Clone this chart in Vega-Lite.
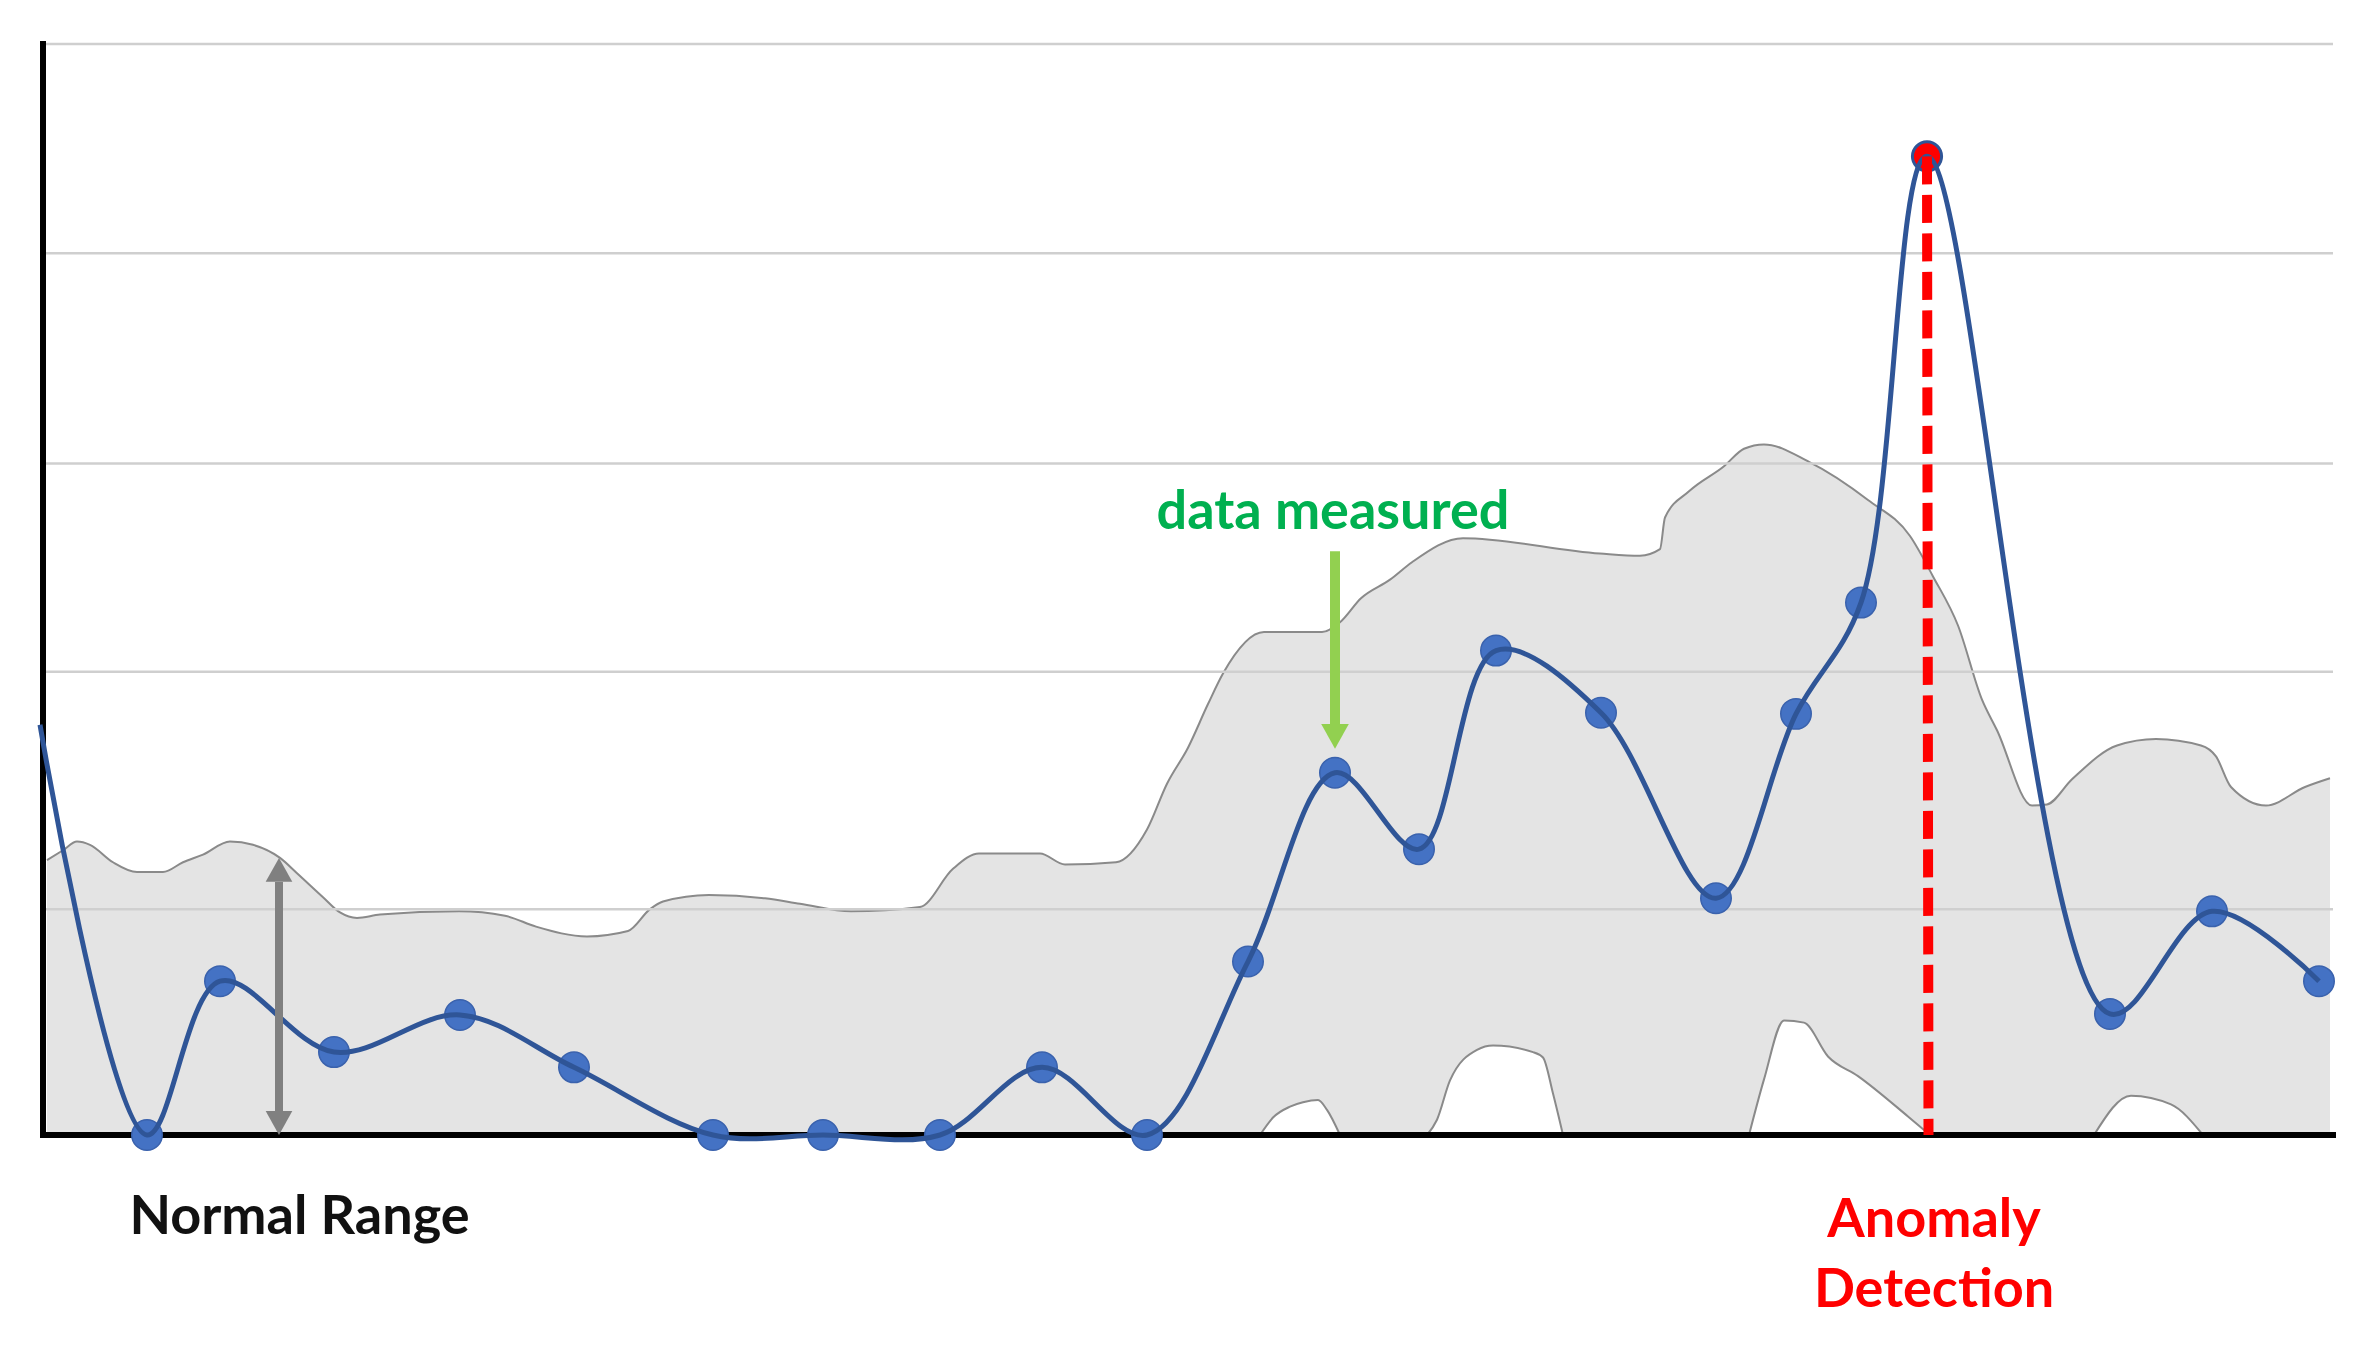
{
  "$schema": "https://vega.github.io/schema/vega-lite/v6.json",
  "width": 2290,
  "height": 1091,
  "autosize": {"type": "none"},
  "padding": {"left": 43, "top": 44, "right": 46, "bottom": 215},
  "background": "white",
  "config": {"view": {"stroke": null}, "axis": {"disable": true}},
  "datasets": {
    "band": [
      {"t": 0.4, "v": 25.2}, {"t": 2.0, "v": 26.1}, {"t": 3.4, "v": 26.9}, {"t": 4.7, "v": 26.6},
      {"t": 7.0, "v": 25.0}, {"t": 9.4, "v": 24.1}, {"t": 12.0, "v": 24.1}, {"t": 14.0, "v": 25.0},
      {"t": 16.0, "v": 25.7}, {"t": 18.7, "v": 26.9}, {"t": 21.0, "v": 26.6}, {"t": 23.7, "v": 25.4},
      {"t": 25.4, "v": 24.0}, {"t": 28.0, "v": 21.8}, {"t": 29.7, "v": 20.4}, {"t": 31.4, "v": 19.9},
      {"t": 33.7, "v": 20.2}, {"t": 41.6, "v": 20.5}, {"t": 46.2, "v": 20.1}, {"t": 49.3, "v": 19.1},
      {"t": 54.4, "v": 18.2}, {"t": 58.5, "v": 18.7}, {"t": 60.7, "v": 20.7}, {"t": 62.0, "v": 21.4},
      {"t": 66.6, "v": 22.0}, {"t": 72.2, "v": 21.7}, {"t": 75.7, "v": 21.2}, {"t": 80.8, "v": 20.5},
      {"t": 87.7, "v": 20.9}, {"t": 91.0, "v": 24.4}, {"t": 93.6, "v": 25.8}, {"t": 99.7, "v": 25.8},
      {"t": 102.2, "v": 24.8}, {"t": 107.3, "v": 25.0}, {"t": 110.4, "v": 28.0}, {"t": 112.4, "v": 32.2},
      {"t": 114.5, "v": 35.5}, {"t": 116.5, "v": 39.5}, {"t": 118.0, "v": 42.3}, {"t": 122.1, "v": 46.1},
      {"t": 127.9, "v": 46.1}, {"t": 129.7, "v": 47.0}, {"t": 131.8, "v": 49.2}, {"t": 134.7, "v": 50.9},
      {"t": 136.9, "v": 52.5}, {"t": 142.0, "v": 54.7}, {"t": 155.7, "v": 53.3}, {"t": 159.7, "v": 53.1},
      {"t": 161.7, "v": 53.7}, {"t": 162.2, "v": 56.6}, {"t": 164.6, "v": 59.0}, {"t": 168.1, "v": 61.3},
      {"t": 170.1, "v": 62.9}, {"t": 172.1, "v": 63.3}, {"t": 176.6, "v": 61.7}, {"t": 182.5, "v": 58.2},
      {"t": 186.7, "v": 54.9}, {"t": 189.0, "v": 51.2}, {"t": 191.5, "v": 46.7}, {"t": 193.9, "v": 39.9},
      {"t": 195.4, "v": 37.1}, {"t": 198.9, "v": 30.2}, {"t": 200.4, "v": 30.3}, {"t": 202.9, "v": 32.6},
      {"t": 207.4, "v": 35.7}, {"t": 211.3, "v": 36.3}, {"t": 215.8, "v": 35.7}, {"t": 217.3, "v": 34.7},
      {"t": 218.8, "v": 31.9}, {"t": 222.3, "v": 30.2}, {"t": 226.2, "v": 31.9}, {"t": 228.7, "v": 32.7}
    ],
    "holes": [
      {"hole": 1, "t": 121.7, "v": 0}, {"hole": 1, "t": 123.0, "v": 1.6}, {"hole": 1, "t": 124.7, "v": 2.6},
      {"hole": 1, "t": 126.0, "v": 3.0}, {"hole": 1, "t": 127.5, "v": 3.2}, {"hole": 1, "t": 128.4, "v": 2.3},
      {"hole": 1, "t": 129.7, "v": 0},
      {"hole": 2, "t": 138.4, "v": 0}, {"hole": 2, "t": 139.4, "v": 1.4}, {"hole": 2, "t": 140.7, "v": 5.0},
      {"hole": 2, "t": 143.4, "v": 7.8}, {"hole": 2, "t": 145.0, "v": 8.2}, {"hole": 2, "t": 149.0, "v": 7.6},
      {"hole": 2, "t": 150.0, "v": 7.1}, {"hole": 2, "t": 151.0, "v": 3.8}, {"hole": 2, "t": 152.0, "v": 0},
      {"hole": 3, "t": 170.6, "v": 0}, {"hole": 3, "t": 172.1, "v": 5.1}, {"hole": 3, "t": 174.1, "v": 10.5},
      {"hole": 3, "t": 176.1, "v": 10.3}, {"hole": 3, "t": 178.5, "v": 7.2}, {"hole": 3, "t": 181.5, "v": 5.4},
      {"hole": 3, "t": 186.5, "v": 1.7}, {"hole": 3, "t": 188.7, "v": 0},
      {"hole": 4, "t": 205.1, "v": 0}, {"hole": 4, "t": 208.8, "v": 3.6}, {"hole": 4, "t": 212.8, "v": 2.8},
      {"hole": 4, "t": 216.0, "v": 0}
    ],
    "grid": [{"v": 100}, {"v": 80.82}, {"v": 61.56}, {"v": 42.47}, {"v": 20.69}],
    "series": [
      {"t": -0.3, "v": 37.6, "kind": "start"},
      {"t": 10.4, "v": 0, "kind": "normal"},
      {"t": 17.7, "v": 14.1, "kind": "normal"},
      {"t": 29.1, "v": 7.6, "kind": "normal"},
      {"t": 41.7, "v": 11.0, "kind": "normal"},
      {"t": 53.1, "v": 6.2, "kind": "normal"},
      {"t": 67.0, "v": 0, "kind": "normal"},
      {"t": 78.0, "v": 0, "kind": "normal"},
      {"t": 89.7, "v": 0, "kind": "normal"},
      {"t": 99.9, "v": 6.2, "kind": "normal"},
      {"t": 110.4, "v": 0, "kind": "normal"},
      {"t": 120.5, "v": 15.9, "kind": "normal"},
      {"t": 129.2, "v": 33.2, "kind": "normal"},
      {"t": 137.6, "v": 26.2, "kind": "normal"},
      {"t": 145.3, "v": 44.4, "kind": "normal"},
      {"t": 155.8, "v": 38.7, "kind": "normal"},
      {"t": 167.3, "v": 21.7, "kind": "normal"},
      {"t": 175.3, "v": 38.6, "kind": "normal"},
      {"t": 181.8, "v": 48.8, "kind": "normal"},
      {"t": 188.4, "v": 89.7, "kind": "anomaly"},
      {"t": 206.7, "v": 11.1, "kind": "normal"},
      {"t": 216.9, "v": 20.5, "kind": "normal"},
      {"t": 227.6, "v": 14.1, "kind": "normal"}
    ],
    "rangeArrow": [{"t": 23.6, "tip1": 25.4, "base1": 23.2, "base2": 2.2, "tip2": 0}],
    "measuredArrow": [{"t": 129.2, "top": 53.5, "base": 37.6, "tip": 35.4}],
    "anomalyLine": [{"t": 188.4, "v": 89.7, "t2": 188.55, "v2": 0}],
    "labels": [
      {"role": "range", "text": "Normal Range", "t": 25.65, "v": -9.07},
      {"role": "measured", "text": "data measured", "t": 129.0, "v": 55.5},
      {"role": "anomaly", "text": "Anomaly", "t": 189.1, "v": -9.35},
      {"role": "anomaly", "text": "Detection", "t": 189.1, "v": -15.8}
    ]
  },
  "layer": [
    {
      "data": {"name": "band"},
      "mark": {"type": "area", "color": "#E4E4E4", "opacity": 1, "fillOpacity": 1, "interpolate": "monotone", "line": {"stroke": "#8A8A8A", "strokeWidth": 2}},
      "encoding": {
        "x": {"field": "t", "type": "quantitative", "scale": {"domain": [0, 229], "nice": false, "zero": false}},
        "y": {"field": "v", "type": "quantitative", "stack": null, "scale": {"domain": [0, 100], "nice": false, "zero": false}}
      }
    },
    {
      "data": {"name": "holes"},
      "mark": {"type": "area", "color": "#FFFFFF", "opacity": 1, "fillOpacity": 1, "interpolate": "monotone", "line": {"stroke": "#8A8A8A", "strokeWidth": 2}},
      "encoding": {
        "x": {"field": "t", "type": "quantitative", "scale": {"domain": [0, 229], "nice": false, "zero": false}},
        "y": {"field": "v", "type": "quantitative", "stack": null, "scale": {"domain": [0, 100], "nice": false, "zero": false}},
        "detail": {"field": "hole", "type": "nominal"}
      }
    },
    {
      "data": {"name": "grid"},
      "mark": {"type": "rule", "color": "#CFCFCF", "strokeWidth": 2.5},
      "encoding": {
        "y": {"field": "v", "type": "quantitative", "scale": {"domain": [0, 100], "nice": false, "zero": false}}
      }
    },
    {
      "data": {"name": "grid"},
      "mark": {"type": "rule", "color": "#000000", "strokeWidth": 6, "strokeCap": "square"},
      "encoding": {
        "y": {"datum": 0, "type": "quantitative", "scale": {"domain": [0, 100], "nice": false, "zero": false}}
      }
    },
    {
      "data": {"name": "grid"},
      "mark": {"type": "rule", "color": "#000000", "strokeWidth": 6, "strokeCap": "square"},
      "encoding": {
        "x": {"datum": 0, "type": "quantitative", "scale": {"domain": [0, 229], "nice": false, "zero": false}}
      }
    },
    {
      "data": {"name": "series"},
      "transform": [{"filter": "datum.kind == 'normal'"}],
      "mark": {"type": "point", "shape": "circle", "filled": true, "size": 930, "color": "#4472C4", "stroke": "#3A62AD", "strokeWidth": 1.5, "opacity": 1},
      "encoding": {
        "x": {"field": "t", "type": "quantitative", "scale": {"domain": [0, 229], "nice": false, "zero": false}},
        "y": {"field": "v", "type": "quantitative", "scale": {"domain": [0, 100], "nice": false, "zero": false}}
      }
    },
    {
      "data": {"name": "series"},
      "transform": [{"filter": "datum.kind == 'anomaly'"}],
      "mark": {"type": "point", "shape": "circle", "filled": true, "size": 850, "color": "#FF0000", "stroke": "#2F5597", "strokeWidth": 3, "opacity": 1},
      "encoding": {
        "x": {"field": "t", "type": "quantitative", "scale": {"domain": [0, 229], "nice": false, "zero": false}},
        "y": {"field": "v", "type": "quantitative", "scale": {"domain": [0, 100], "nice": false, "zero": false}}
      }
    },
    {
      "data": {"name": "series"},
      "mark": {"type": "line", "color": "#2F5597", "strokeWidth": 5, "interpolate": "catmull-rom"},
      "encoding": {
        "x": {"field": "t", "type": "quantitative", "scale": {"domain": [0, 229], "nice": false, "zero": false}},
        "y": {"field": "v", "type": "quantitative", "scale": {"domain": [0, 100], "nice": false, "zero": false}}
      }
    },
    {
      "data": {"name": "anomalyLine"},
      "mark": {"type": "rule", "color": "#FF0000", "strokeWidth": 10, "strokeDash": [28, 10.5], "strokeCap": "butt"},
      "encoding": {
        "x": {"field": "t", "type": "quantitative", "scale": {"domain": [0, 229], "nice": false, "zero": false}},
        "x2": {"field": "t2"},
        "y": {"field": "v", "type": "quantitative", "scale": {"domain": [0, 100], "nice": false, "zero": false}},
        "y2": {"field": "v2"}
      }
    },
    {
      "data": {"name": "rangeArrow"},
      "mark": {"type": "rule", "color": "#808080", "strokeWidth": 8},
      "encoding": {
        "x": {"field": "t", "type": "quantitative", "scale": {"domain": [0, 229], "nice": false, "zero": false}},
        "y": {"field": "base1", "type": "quantitative", "scale": {"domain": [0, 100], "nice": false, "zero": false}},
        "y2": {"field": "base2"}
      }
    },
    {
      "data": {"name": "rangeArrow"},
      "mark": {"type": "point", "shape": "M0,0L-1,1.8L1,1.8Z", "filled": true, "size": 710, "color": "#808080", "opacity": 1},
      "encoding": {
        "x": {"field": "t", "type": "quantitative", "scale": {"domain": [0, 229], "nice": false, "zero": false}},
        "y": {"field": "tip1", "type": "quantitative", "scale": {"domain": [0, 100], "nice": false, "zero": false}}
      }
    },
    {
      "data": {"name": "rangeArrow"},
      "mark": {"type": "point", "shape": "M0,0L-1,-1.8L1,-1.8Z", "filled": true, "size": 710, "color": "#808080", "opacity": 1},
      "encoding": {
        "x": {"field": "t", "type": "quantitative", "scale": {"domain": [0, 229], "nice": false, "zero": false}},
        "y": {"field": "tip2", "type": "quantitative", "scale": {"domain": [0, 100], "nice": false, "zero": false}}
      }
    },
    {
      "data": {"name": "measuredArrow"},
      "mark": {"type": "rule", "color": "#92D050", "strokeWidth": 10},
      "encoding": {
        "x": {"field": "t", "type": "quantitative", "scale": {"domain": [0, 229], "nice": false, "zero": false}},
        "y": {"field": "top", "type": "quantitative", "scale": {"domain": [0, 100], "nice": false, "zero": false}},
        "y2": {"field": "base"}
      }
    },
    {
      "data": {"name": "measuredArrow"},
      "mark": {"type": "point", "shape": "M0,0L-1,-1.8L1,-1.8Z", "filled": true, "size": 760, "color": "#92D050", "opacity": 1},
      "encoding": {
        "x": {"field": "t", "type": "quantitative", "scale": {"domain": [0, 229], "nice": false, "zero": false}},
        "y": {"field": "tip", "type": "quantitative", "scale": {"domain": [0, 100], "nice": false, "zero": false}}
      }
    },
    {
      "data": {"name": "labels"},
      "transform": [{"filter": "datum.role == 'range'"}],
      "mark": {"type": "text", "font": "Lato", "fontWeight": "bold", "fontSize": 54, "align": "center", "baseline": "alphabetic", "color": "#111111"},
      "encoding": {
        "x": {"field": "t", "type": "quantitative", "scale": {"domain": [0, 229], "nice": false, "zero": false}},
        "y": {"field": "v", "type": "quantitative", "scale": {"domain": [0, 100], "nice": false, "zero": false}},
        "text": {"field": "text"}
      }
    },
    {
      "data": {"name": "labels"},
      "transform": [{"filter": "datum.role == 'measured'"}],
      "mark": {"type": "text", "font": "Lato", "fontWeight": "bold", "fontSize": 54, "align": "center", "baseline": "alphabetic", "color": "#00B050"},
      "encoding": {
        "x": {"field": "t", "type": "quantitative", "scale": {"domain": [0, 229], "nice": false, "zero": false}},
        "y": {"field": "v", "type": "quantitative", "scale": {"domain": [0, 100], "nice": false, "zero": false}},
        "text": {"field": "text"}
      }
    },
    {
      "data": {"name": "labels"},
      "transform": [{"filter": "datum.role == 'anomaly'"}],
      "mark": {"type": "text", "font": "Lato", "fontWeight": "bold", "fontSize": 54, "align": "center", "baseline": "alphabetic", "color": "#FF0000"},
      "encoding": {
        "x": {"field": "t", "type": "quantitative", "scale": {"domain": [0, 229], "nice": false, "zero": false}},
        "y": {"field": "v", "type": "quantitative", "scale": {"domain": [0, 100], "nice": false, "zero": false}},
        "text": {"field": "text"}
      }
    }
  ]
}
